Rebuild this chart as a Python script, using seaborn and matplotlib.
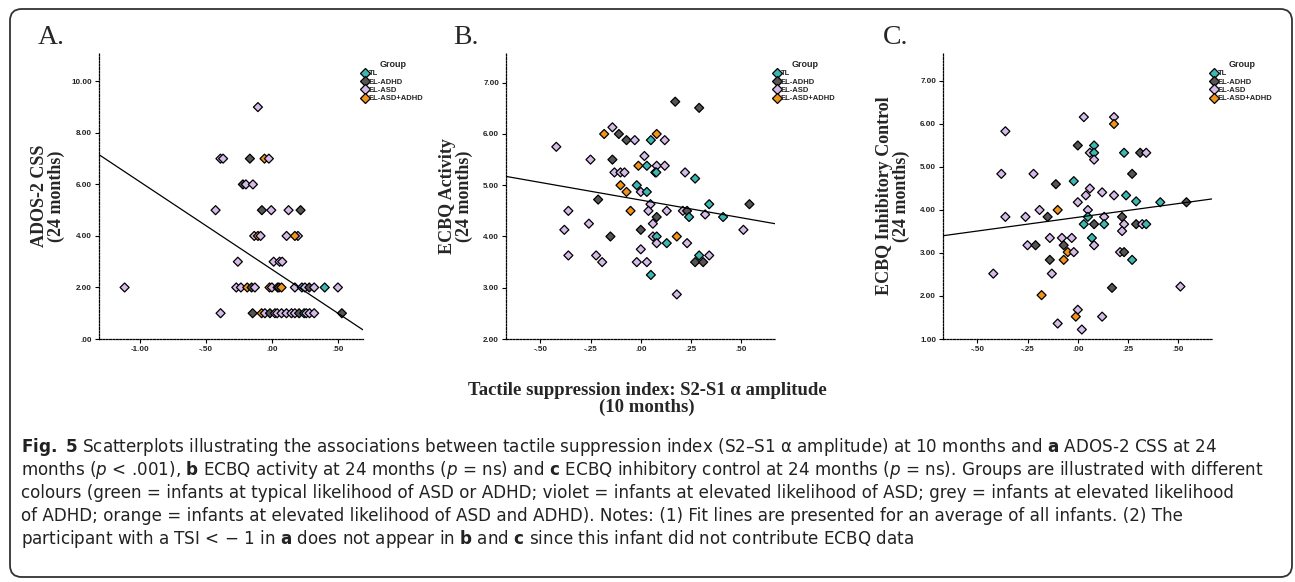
import numpy as np
import pandas as pd
import matplotlib
matplotlib.use("Agg")
import matplotlib.pyplot as plt
import seaborn as sns
from matplotlib import font_manager
from matplotlib.lines import Line2D
from matplotlib.patches import FancyBboxPatch

# group codes: T = TL, H = EL-ADHD, S = EL-ASD, B = EL-ASD+ADHD
group_names = {"T": "TL", "H": "EL-ADHD", "S": "EL-ASD", "B": "EL-ASD+ADHD"}
group_order = ["TL", "EL-ADHD", "EL-ASD", "EL-ASD+ADHD"]
group_colors = ["#3cb8b2", "#555555", "#d6bbea", "#f39418"]

# Panel A: TSI vs ADOS-2 CSS
a_tsi = [-0.106,
         -0.39, -0.37, -0.167, -0.056, -0.023,
         -0.22, -0.197, -0.144,
         -0.427, -0.076, -0.005, 0.126, 0.217,
         -0.134, -0.106, -0.086, 0.111, 0.197, 0.174,
         -0.258, 0.013, 0.058, 0.078,
         -1.116, -0.27, -0.235, -0.187, -0.154, -0.129, -0.018, 0.0, 0.043, 0.053,
         0.073, 0.174, 0.227, 0.25, 0.283, 0.32, 0.40, 0.50,
         -0.389, -0.146, -0.078, -0.053, -0.015, 0.023, 0.04, 0.073, 0.11, 0.148,
         0.174, 0.206, 0.244, 0.26, 0.285, 0.32, 0.53]
a_ados = [9,
          7, 7, 7, 7, 7,
          6, 6, 6,
          5, 5, 5, 5, 5,
          4, 4, 4, 4, 4, 4,
          3, 3, 3, 3,
          2, 2, 2, 2, 2, 2, 2, 2, 2, 2,
          2, 2, 2, 2, 2, 2, 2, 2,
          1, 1, 1, 1, 1, 1, 1, 1, 1, 1,
          1, 1, 1, 1, 1, 1, 1]
a_group = list("S"
               "SSHBS"
               "HSS"
               "SHSSH"
               "SBSSSB"
               "SSSS"
               "SSSBHSBSSH"
               "BSTSHSTS"
               "SHBSHSSSSS"
               "SHTSSSH")
a_fit = [2.70, -3.40]  # intercept, slope of the fit line as drawn

# Panel B: TSI vs ECBQ Activity
b_tsi = [0.171, 0.29, -0.141, -0.182, -0.109, -0.071, -0.03, 0.05, 0.079, 0.119,
         -0.42, -0.25, -0.141, 0.018, -0.012, 0.03, 0.079, 0.119,
         -0.131, -0.101, -0.081, 0.072, 0.077, 0.22, 0.27, -0.02, -0.101,
         -0.071, 0.0, 0.03, -0.212, 0.048, 0.34, 0.54,
         -0.36, -0.051, 0.038, 0.129, 0.209, 0.23, 0.32, 0.24, 0.079, 0.409,
         -0.258, 0.06, -0.38, 0.0, 0.51, -0.151, 0.06, 0.079, 0.179,
         0.079, 0.129, 0.23, 0.0, -0.36, -0.222, 0.29, 0.34,
         -0.192, -0.02, 0.03, 0.27, 0.31, 0.05, 0.179]
b_act = [6.63, 6.51, 6.13, 6.0, 6.0, 5.88, 5.88, 5.88, 6.0, 5.88,
         5.75, 5.5, 5.5, 5.57, 5.38, 5.38, 5.38, 5.38,
         5.25, 5.25, 5.25, 5.25, 5.25, 5.25, 5.13, 5.0, 5.0,
         4.87, 4.87, 4.87, 4.72, 4.63, 4.63, 4.63,
         4.5, 4.5, 4.5, 4.5, 4.5, 4.5, 4.43, 4.38, 4.38, 4.38,
         4.25, 4.25, 4.13, 4.13, 4.13, 4.0, 4.0, 4.0, 4.0,
         3.87, 3.87, 3.87, 3.75, 3.63, 3.63, 3.63, 3.63,
         3.5, 3.5, 3.5, 3.5, 3.5, 3.25, 2.87]
b_group = list("HHSBHHSTBS"
               "SSHSBTSS"
               "SSSHTSTTB"
               "BSTHSTH"
               "SBSSSHSTHT"
               "SSSHSHSTB"
               "STSSSSTS"
               "SSSHHTS")
b_fit = [4.71, -0.69]

# Panel C: TSI vs ECBQ Inhibitory Control
c_tsi = [0.03, 0.18, 0.18, -0.36, 0.0, 0.081, 0.06, 0.081, 0.081, 0.23, 0.31, 0.34,
         -0.38, -0.22, 0.27, -0.02, -0.109, 0.06, 0.121, 0.04, 0.18, 0.24, 0.29,
         0.0, 0.41, 0.54, -0.19, -0.1, 0.05,
         -0.36, -0.26, -0.15, 0.05, 0.131, 0.22,
         0.03, 0.081, 0.131, 0.23, 0.29, 0.32, 0.34, 0.22,
         -0.139, -0.079, -0.03, 0.07, -0.25, -0.21, -0.07, 0.081,
         -0.05, -0.02, 0.21, 0.23, -0.139, -0.07, 0.27,
         -0.42, -0.129, -0.18, 0.17, 0.51, 0.0, -0.01, 0.121, -0.1, 0.02]
c_inh = [6.16, 6.16, 6.0, 5.83, 5.5, 5.5, 5.33, 5.33, 5.17, 5.33, 5.33, 5.33,
         4.84, 4.84, 4.84, 4.67, 4.6, 4.5, 4.41, 4.34, 4.34, 4.34, 4.2,
         4.18, 4.18, 4.18, 4.0, 4.0, 4.0,
         3.84, 3.84, 3.84, 3.84, 3.84, 3.84,
         3.67, 3.67, 3.67, 3.67, 3.67, 3.67, 3.67, 3.51,
         3.35, 3.35, 3.35, 3.35, 3.18, 3.18, 3.18, 3.18,
         3.02, 3.02, 3.02, 3.02, 2.84, 2.84, 2.84,
         2.52, 2.52, 2.02, 2.19, 2.22, 1.68, 1.52, 1.52, 1.36, 1.22]
c_group = list("SSBSHTSTSTHS"
               "SSHTHSSSSTT"
               "STHSBS"
               "SSHTSH"
               "THTSHSTS"
               "SSSTSHHS"
               "BSSHHBT"
               "SSBHSSBSSS")
c_fit = [3.83, 0.64]

x_label = "Tactile suppression index: S2-S1 \u03b1 amplitude\n(10 months)"

caption_lines = [
    "$\\mathbf{Fig.\\ 5}$ Scatterplots illustrating the associations between tactile suppression index (S2\u2013S1 \u03b1 amplitude) at 10 months and $\\mathbf{a}$ ADOS-2 CSS at 24",
    "months ($\\mathit{p}$ < .001), $\\mathbf{b}$ ECBQ activity at 24 months ($\\mathit{p}$ = ns) and $\\mathbf{c}$ ECBQ inhibitory control at 24 months ($\\mathit{p}$ = ns). Groups are illustrated with different",
    "colours (green = infants at typical likelihood of ASD or ADHD; violet = infants at elevated likelihood of ASD; grey = infants at elevated likelihood",
    "of ADHD; orange = infants at elevated likelihood of ASD and ADHD). Notes: (1) Fit lines are presented for an average of all infants. (2) The",
    "participant with a TSI < \u2212 1 in $\\mathbf{a}$ does not appear in $\\mathbf{b}$ and $\\mathbf{c}$ since this infant did not contribute ECBQ data",
]


def has_font(name):
    try:
        font_manager.findfont(name, fallback_to_default=False)
        return True
    except ValueError:
        return False


sns.set_theme(style="white")
cap_font = "Liberation Sans Narrow" if has_font("Liberation Sans Narrow") else "DejaVu Sans"
serif_font = "Liberation Serif"
sans_font = "Liberation Sans"
plt.rcParams["font.family"] = [sans_font, "DejaVu Sans"]
plt.rcParams["mathtext.fontset"] = "custom"
plt.rcParams["mathtext.rm"] = cap_font
plt.rcParams["mathtext.bf"] = cap_font + ":bold"
plt.rcParams["mathtext.it"] = cap_font + ":italic"


def fmt_tick(v):
    s = f"{v:.2f}"
    return s.replace("0.", ".", 1) if s.lstrip("-").startswith("0.") else s


W, H = 1295, 582
fig = plt.figure(figsize=(W / 100, H / 100), dpi=100)

panels = [
    dict(letter="A.", left=99, width=264, tsi=a_tsi, y=a_ados, grp=a_group, fit=a_fit,
         ylabel="ADOS-2 CSS\n(24 months)", xlim=(-1.31, 0.69), ylim=(0, 11.1),
         xticks=[-1.0, -0.5, 0.0, 0.5], yticks=[0, 2, 4, 6, 8, 10], letter_x=38, lab_x=65),
    dict(letter="B.", left=506, width=269, tsi=b_tsi, y=b_act, grp=b_group, fit=b_fit,
         ylabel="ECBQ Activity\n(24 months)", xlim=(-0.67, 0.667), ylim=(2, 7.58),
         xticks=[-0.5, -0.25, 0.0, 0.25, 0.5], yticks=[2, 3, 4, 5, 6, 7], letter_x=453, lab_x=473),
    dict(letter="C.", left=943, width=269, tsi=c_tsi, y=c_inh, grp=c_group, fit=c_fit,
         ylabel="ECBQ Inhibitory Control\n(24 months)", xlim=(-0.67, 0.667), ylim=(1, 7.65),
         xticks=[-0.5, -0.25, 0.0, 0.25, 0.5], yticks=[1, 2, 3, 4, 5, 6, 7], letter_x=883, lab_x=910),
]

palette = dict(zip(group_order, group_colors))
ax_top, ax_bottom = 53, 339

for p in panels:
    ax = fig.add_axes([p["left"] / W, 1 - ax_bottom / H, p["width"] / W, (ax_bottom - ax_top) / H])
    df = pd.DataFrame({"tsi": p["tsi"], "score": p["y"],
                       "Group": [group_names[g] for g in p["grp"]]})
    sns.scatterplot(data=df, x="tsi", y="score", hue="Group", hue_order=group_order,
                    palette=palette, marker="D", s=21, edgecolor="black", linewidth=0.9,
                    legend=False, ax=ax, zorder=3)
    # fit line for all infants
    ax.axline((0, p["fit"][0]), slope=p["fit"][1], color="black", lw=0.9, zorder=4)
    ax.set_xlim(*p["xlim"])
    ax.set_ylim(*p["ylim"])

    sns.despine(ax=ax)
    for side in ["left", "bottom"]:
        ax.spines[side].set_linestyle((0, (1.5, 1.2)))
        ax.spines[side].set_linewidth(0.9)
        ax.spines[side].set_color("black")
    ax.set_xticks(p["xticks"])
    ax.set_xticklabels([fmt_tick(v) for v in p["xticks"]])
    ax.set_yticks(p["yticks"])
    ax.set_yticklabels([fmt_tick(v) for v in p["yticks"]])
    ax.tick_params(axis="both", direction="out", length=3, width=0.8, color="black",
                   labelsize=5.8, pad=2, bottom=True, left=True)
    for lab in ax.get_xticklabels() + ax.get_yticklabels():
        lab.set_fontweight("bold")
        lab.set_color("#222222")

    ax.set_xlabel("")
    ax.set_ylabel(p["ylabel"], fontsize=13, fontweight="bold", family=serif_font,
                  linespacing=0.95)
    ax.yaxis.set_label_coords((p["lab_x"] - p["left"]) / p["width"], 0.5)

    handles = [Line2D([], [], ls="", marker="D", ms=5.5, mfc=palette[g], mec="black", mew=0.9)
               for g in group_order]
    ax.legend(handles, group_order, title="Group", loc="upper left",
              bbox_to_anchor=(1.0, 0.975), frameon=False, borderpad=0, borderaxespad=0,
              handlelength=0.6, handletextpad=0.15, labelspacing=0.12,
              prop={"family": sans_font, "weight": "bold", "size": 5.5},
              title_fontproperties={"family": sans_font, "weight": "bold", "size": 6.5})

    fig.text(p["letter_x"] / W, 1 - 44 / H, p["letter"], family=serif_font, fontsize=20,
             ha="left", va="baseline")

fig.text(647 / W, 1 - 399 / H, x_label, family=serif_font, fontweight="bold", fontsize=13.5,
         ha="center", va="center", linespacing=0.95)

for i, line in enumerate(caption_lines):
    fig.text(21 / W, 1 - (447 + 23 * i) / H, line, family=cap_font, fontsize=12.1,
             ha="left", va="center", color="#222222")

frame = FancyBboxPatch((10 / W, 1 - 577 / H), 1282 / W, 568 / H,
                       boxstyle="round,pad=0,rounding_size=0.009", mutation_aspect=W / H,
                       transform=fig.transFigure, fill=False, ec="#333333", lw=1.3)
fig.patches.append(frame)

fig.savefig("out.png", dpi=100)
